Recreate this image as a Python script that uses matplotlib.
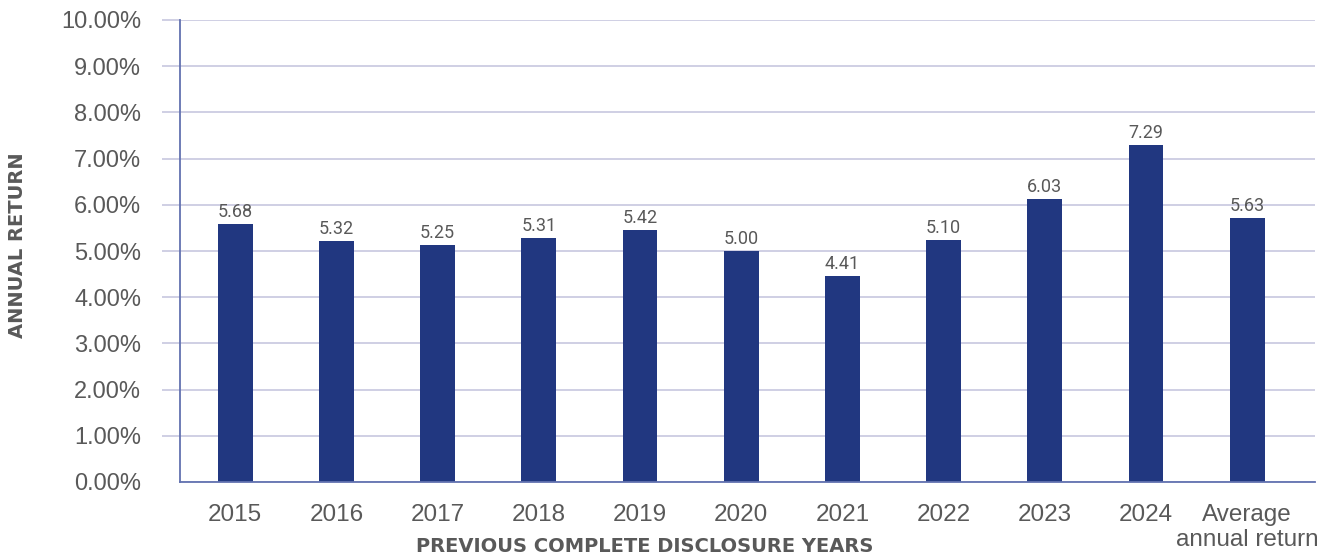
import numpy as np
import matplotlib.pyplot as plt

# categories and values
categories = ['2015', '2016', '2017', '2018', '2019', '2020', '2021', '2022', '2023', '2024',
              'Average\nannual return']
# bar heights as drawn in the picture (percent)
bar_heights = [5.58, 5.22, 5.13, 5.28, 5.45, 5.00, 4.46, 5.24, 6.13, 7.29, 5.71]
# value labels printed above the bars
value_labels = ['5.68', '5.32', '5.25', '5.31', '5.42', '5.00', '4.41', '5.10', '6.03', '7.29', '5.63']
y_ticks = [0, 1, 2, 3, 4, 5, 6, 7, 8, 9, 10]

bar_color = '#213780'
grid_color = '#cbcbe2'
axis_color = '#6272b0'
text_color = '#595959'

plt.rcParams['font.family'] = ['Liberation Sans', 'DejaVu Sans']

fig = plt.figure(figsize=(13.28, 5.57), dpi=100)
ax = fig.add_axes([180 / 1328, 75 / 557, (1315 - 180) / 1328, (482 - 20) / 557])

x = np.arange(len(categories))
bars = ax.bar(x, bar_heights, width=0.345, color=bar_color, zorder=3)

# 数值标签
for xi, h, lab in zip(x, bar_heights, value_labels):
    ax.text(xi, h + 0.07, lab, ha='center', va='bottom', fontsize=13,
            color=text_color, family=['Liberation Sans Narrow', 'Roboto', 'DejaVu Sans'])

ax.set_xlim(-0.545, 10.67)
ax.set_ylim(0, 10)
ax.set_yticks(y_ticks)
ax.set_yticklabels(['%.2f%%' % v for v in y_ticks])
ax.set_xticks(x)
ax.set_xticklabels(categories, linespacing=1.22, va='top')

ax.grid(axis='y', color=grid_color, linewidth=1.3, zorder=0)
ax.tick_params(axis='y', length=13, color=grid_color, width=1.3, pad=15,
               labelsize=17, labelcolor=text_color)
ax.tick_params(axis='x', length=0, pad=15.5, labelsize=17.5, labelcolor=text_color)
ax.yaxis.get_major_ticks()[0].tick1line.set_visible(False)

for side in ['top', 'right']:
    ax.spines[side].set_visible(False)
for side in ['left', 'bottom']:
    ax.spines[side].set_color(axis_color)
    ax.spines[side].set_linewidth(1.3)
    ax.spines[side].set_zorder(4)

# 坐标轴标题
fig.text(645 / 1328, 1 - 547 / 557, 'PREVIOUS COMPLETE DISCLOSURE YEARS', ha='center', va='center',
         fontsize=14, fontweight='bold', color=text_color, family=['DejaVu Sans'])
fig.text(18 / 1328, 1 - 245 / 557, 'ANNUAL RETURN', ha='center', va='center', rotation=90,
         fontsize=14, fontweight='bold', color=text_color, family=['DejaVu Sans'])

fig.savefig('out.png', dpi=100)
